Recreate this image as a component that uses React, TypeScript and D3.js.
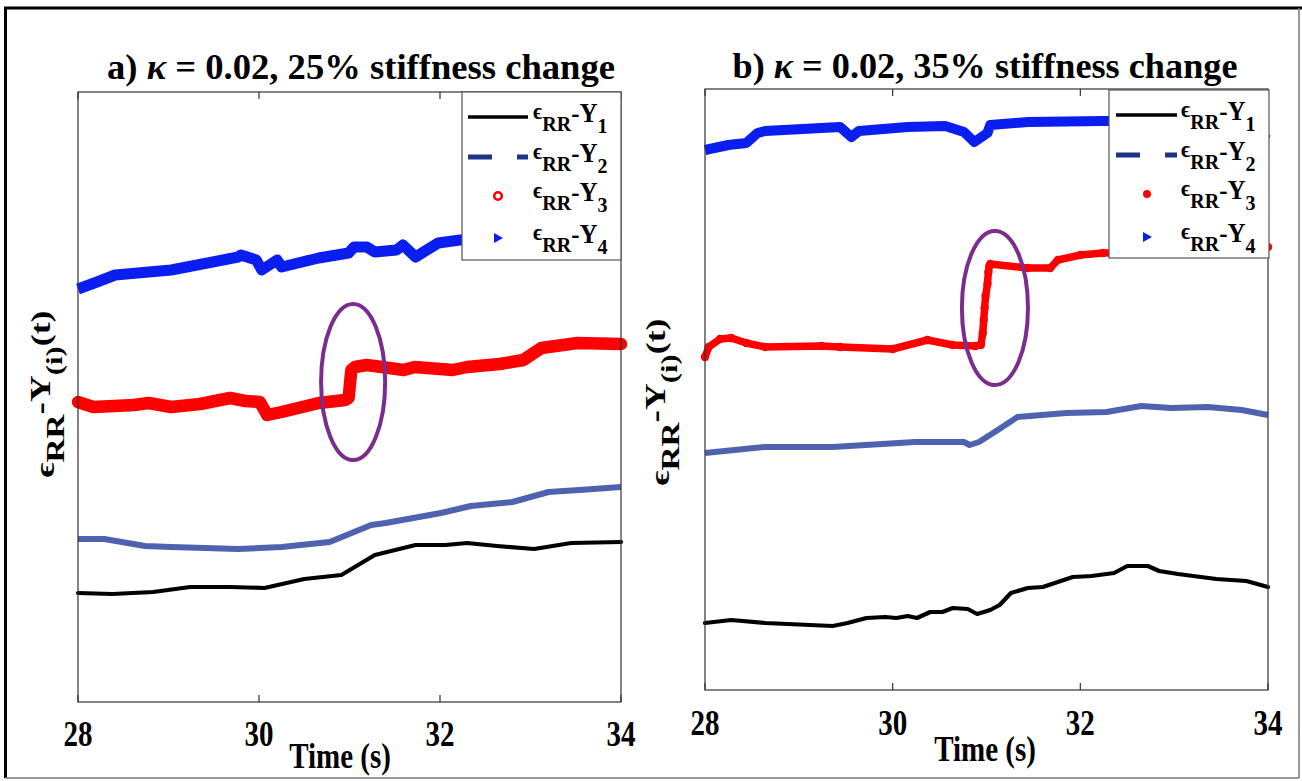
import React from "react";
import * as d3 from "d3";

// ---------- DATA (time in s, response in arbitrary units) ----------
const xTicks = [28, 30, 32, 34];

// Panel a
const a_Y1_t = [28.0, 28.38, 28.83, 29.24, 29.68, 30.06, 30.5, 30.91, 31.28, 31.73, 32.06, 32.3, 32.63, 33.04, 33.45, 34.0];
const a_Y1_v = [1.09, 1.08, 1.1, 1.15, 1.15, 1.14, 1.23, 1.27, 1.47, 1.57, 1.57, 1.59, 1.56, 1.53, 1.59, 1.6];
const a_Y2_t = [28.0, 28.29, 28.74, 29.03, 29.77, 30.25, 30.78, 31.24, 31.4, 32.01, 32.34, 32.8, 33.2, 33.54, 34.0];
const a_Y2_v = [1.63, 1.63, 1.56, 1.55, 1.53, 1.55, 1.6, 1.77, 1.79, 1.89, 1.96, 2.0, 2.1, 2.12, 2.15];
const a_Y3_t = [28.0, 28.17, 28.62, 28.78, 29.03, 29.35, 29.68, 29.85, 30.01, 30.09, 30.25, 30.66, 30.95, 30.99, 31.02, 31.06, 31.19, 31.6, 31.72, 32.14, 32.3, 32.66, 32.92, 33.12, 33.52, 34.0];
const a_Y3_v = [3.0, 2.95, 2.97, 2.99, 2.95, 2.98, 3.04, 3.01, 3.0, 2.87, 2.9, 2.99, 3.02, 3.04, 3.32, 3.35, 3.37, 3.32, 3.35, 3.32, 3.35, 3.38, 3.42, 3.54, 3.59, 3.58];
const a_Y4_t = [28.0, 28.21, 28.41, 29.03, 29.77, 29.8, 29.97, 30.03, 30.2, 30.25, 30.66, 30.99, 31.05, 31.19, 31.28, 31.52, 31.59, 31.73, 31.89, 31.98, 32.22, 32.66, 33.33, 34.0];
const a_Y4_v = [4.13, 4.2, 4.27, 4.32, 4.45, 4.47, 4.42, 4.32, 4.42, 4.35, 4.44, 4.49, 4.55, 4.55, 4.5, 4.52, 4.57, 4.45, 4.54, 4.59, 4.62, 4.65, 4.68, 4.7];

// Panel b
const b_Y1_t = [28.0, 28.28, 28.64, 29.36, 29.52, 29.72, 29.92, 30.04, 30.16, 30.26, 30.4, 30.53, 30.64, 30.8, 30.9, 31.04, 31.14, 31.26, 31.44, 31.6, 31.92, 32.12, 32.36, 32.5, 32.72, 32.84, 33.04, 33.45, 33.77, 34.0];
const b_Y1_v = [0.67, 0.7, 0.67, 0.64, 0.67, 0.72, 0.73, 0.72, 0.74, 0.72, 0.78, 0.78, 0.82, 0.81, 0.76, 0.8, 0.85, 0.97, 1.02, 1.03, 1.13, 1.14, 1.17, 1.24, 1.24, 1.19, 1.16, 1.11, 1.09, 1.03];
const b_Y2_t = [28.0, 28.64, 29.36, 30.24, 30.76, 30.82, 30.92, 31.12, 31.33, 31.85, 32.28, 32.65, 32.81, 32.97, 33.36, 33.72, 34.0];
const b_Y2_v = [2.37, 2.43, 2.43, 2.48, 2.48, 2.45, 2.48, 2.6, 2.73, 2.77, 2.78, 2.84, 2.83, 2.82, 2.83, 2.8, 2.75];
const b_Y3_t = [28.0, 28.04, 28.16, 28.28, 28.44, 28.64, 29.24, 29.44, 30.0, 30.37, 30.64, 30.88, 30.94, 30.96, 30.97, 30.98, 30.99, 31.01, 31.02, 31.03, 31.04, 31.44, 31.68, 31.76, 32.0, 32.24, 33.06, 34.0];
const b_Y3_v = [3.33, 3.43, 3.51, 3.52, 3.47, 3.43, 3.44, 3.43, 3.41, 3.5, 3.45, 3.44, 3.45, 3.57, 3.7, 3.82, 3.94, 4.06, 4.18, 4.24, 4.26, 4.22, 4.22, 4.3, 4.35, 4.37, 4.38, 4.43];
const b_Y4_t = [28.0, 28.25, 28.44, 28.56, 28.64, 29.44, 29.56, 29.64, 30.16, 30.56, 30.76, 30.87, 31.01, 31.04, 31.44, 32.24, 33.06, 33.7, 34.0];
const b_Y4_v = [5.4, 5.45, 5.47, 5.57, 5.59, 5.63, 5.53, 5.59, 5.63, 5.64, 5.58, 5.48, 5.57, 5.65, 5.68, 5.69, 5.69, 5.67, 5.5];

// highlighted regions (center t, center v, half-width s, half-height v)
const a_ellipse = [31.04, 3.2, 0.354, 0.78];
const b_ellipse = [31.09, 3.82, 0.352, 0.77];

const titlePrefix = ["a)  ", "b) "];
const titleSuffix = [" = 0.02, 25% stiffness change", " = 0.02, 35% stiffness change"];
const legendNums = ["1", "2", "3", "4"];

// ---------- STYLE ----------
const FONT = "Liberation Serif, Times New Roman, serif";
const C_Y1 = "#000000";
const C_Y2 = "#4f62b0";
const C_Y2_LEG = "#1c3388";
const C_Y3 = "#ff0000";
const C_Y4 = "#0a1ef0";
const C_ELL = "#7b2d8e";
const VS = 1.2; // vertical stretch of the lettering

type Panel = {
  left: number; right: number; top: number; bottom: number; yMax: number;
  tIdx: number; titleX: number; titleY: number; titleLen: number;
  tickY: number; timeX: number; timeY: number;
  ylabX: number; ylabY: number;
  leg: { x0: number; y0: number; x1: number; y1: number; rows: number[]; sx0: number; sx1: number; tx: number; mx: number };
  filledY3: boolean;
  s: { t: number[]; v: number[] }[];
  ell: number[];
};

const panels: Panel[] = [
  {
    left: 78, right: 621, top: 92, bottom: 702, yMax: 6.1,
    tIdx: 0, titleX: 361, titleY: 79, titleLen: 508,
    tickY: 746, timeX: 340, timeY: 768, ylabX: 50, ylabY: 394,
    leg: { x0: 462, y0: 92, x1: 621, y1: 260, rows: [117, 157, 196, 238], sx0: 468, sx1: 528, tx: 533, mx: 498 },
    filledY3: false,
    s: [
      { t: a_Y1_t, v: a_Y1_v }, { t: a_Y2_t, v: a_Y2_v }, { t: a_Y3_t, v: a_Y3_v }, { t: a_Y4_t, v: a_Y4_v },
    ],
    ell: a_ellipse,
  },
  {
    left: 705, right: 1268, top: 89, bottom: 690, yMax: 6.01,
    tIdx: 1, titleX: 985, titleY: 78, titleLen: 505,
    tickY: 735, timeX: 985, timeY: 761, ylabX: 665, ylabY: 402,
    leg: { x0: 1109, y0: 90, x1: 1269, y1: 258, rows: [115, 155, 194, 237], sx0: 1116, sx1: 1177, tx: 1181, mx: 1147 },
    filledY3: true,
    s: [
      { t: b_Y1_t, v: b_Y1_v }, { t: b_Y2_t, v: b_Y2_v }, { t: b_Y3_t, v: b_Y3_v }, { t: b_Y4_t, v: b_Y4_v },
    ],
    ell: b_ellipse,
  },
];

function LegendLabel({ x, y, n }: { x: number; y: number; n: string }) {
  return (
    <text transform={`translate(${x},${y + 5}) scale(1,1.05)`} fontFamily={FONT} fontWeight="bold" fill="#000">
      <tspan fontSize={22} dy={-3}>ϵ</tspan>
      <tspan fontSize={20} dy={12}>RR</tspan>
      <tspan fontSize={25} dy={-9}>-Y</tspan>
      <tspan fontSize={20} dy={10}>{n}</tspan>
    </text>
  );
}

function PanelView({ p }: { p: Panel }) {
  const x = d3.scaleLinear().domain([28, 34]).range([p.left, p.right]);
  const y = d3.scaleLinear().domain([0, p.yMax]).range([p.bottom, p.top]);
  const pts = (k: number) => p.s[k].t.map((t, i) => [t, p.s[k].v[i]] as [number, number]);
  const line = d3.line<[number, number]>().x((d) => x(d[0])).y((d) => y(d[1])).curve(d3.curveLinear);
  const clipId = "clip" + p.left;
  const [ecx, ecy, erx, ery] = p.ell;
  const L = p.leg;
  return (
    <g>
      <defs>
        <clipPath id={clipId}>
          <rect x={p.left - 6} y={p.top} width={p.right - p.left + 14} height={p.bottom - p.top} />
        </clipPath>
      </defs>
      <text transform={`translate(${p.titleX},${p.titleY}) scale(1,${VS})`} textAnchor="middle" fontFamily={FONT} fontWeight="bold" fontSize={30}
        textLength={p.titleLen} lengthAdjust="spacingAndGlyphs">
        <tspan>{titlePrefix[p.tIdx]}</tspan>
        <tspan fontStyle="italic">κ</tspan>
        <tspan>{titleSuffix[p.tIdx]}</tspan>
      </text>
      <g clipPath={`url(#${clipId})`}>
        <path d={line(pts(0)) || ""} fill="none" stroke={C_Y1} strokeWidth={4.2} strokeLinejoin="round" strokeLinecap="round" />
        <path d={line(pts(1)) || ""} fill="none" stroke={C_Y2} strokeWidth={6} strokeLinejoin="round" />
        <path d={line(pts(2)) || ""} fill="none" stroke={C_Y3} strokeWidth={p.filledY3 ? 7.5 : 12.5} strokeLinejoin="round" strokeLinecap="round" />
        {p.filledY3 && pts(2).map((d, i) => <circle key={i} cx={x(d[0])} cy={y(d[1])} r={4.2} fill={C_Y3} />)}
        <path d={line(pts(3)) || ""} fill="none" stroke={C_Y4} strokeWidth={p.filledY3 ? 10 : 11} strokeLinejoin="round" />
      </g>
      <ellipse cx={x(ecx)} cy={y(ecy)} rx={x(ecx + erx) - x(ecx)} ry={y(ecy - ery) - y(ecy)} fill="none" stroke={C_ELL} strokeWidth={4} />
      {/* axes box */}
      <rect x={p.left} y={p.top} width={p.right - p.left} height={p.bottom - p.top} fill="none" stroke="#333" strokeWidth={1.2} />
      {xTicks.map((t) => (
        <g key={t}>
          <line x1={x(t)} x2={x(t)} y1={p.bottom} y2={p.bottom - 7} stroke="#333" strokeWidth={1.2} />
          <line x1={x(t)} x2={x(t)} y1={p.top} y2={p.top + 7} stroke="#333" strokeWidth={1.2} />
          <text transform={`translate(${x(t)},${p.tickY}) scale(1,${VS})`} textAnchor="middle" fontFamily={FONT} fontWeight="bold" fontSize={29}>{t}</text>
        </g>
      ))}
      <text transform={`translate(${p.timeX},${p.timeY}) scale(1,${VS})`} textAnchor="middle" fontFamily={FONT} fontWeight="bold" fontSize={29}>Time (s)</text>
      <text transform={`translate(${p.ylabX},${p.ylabY}) rotate(-90) scale(1.28,1)`} textAnchor="middle" fontFamily={FONT} fontWeight="bold" fill="#000">
        <tspan fontSize={28} dy={4}>ϵ</tspan>
        <tspan fontSize={26} dy={10}>RR</tspan>
        <tspan fontSize={29} dy={-14}>-Y</tspan>
        <tspan fontSize={24} dy={12}>(i)</tspan>
        <tspan fontSize={28} dy={-12}>(t)</tspan>
      </text>
      {/* legend */}
      <rect x={L.x0} y={L.y0} width={L.x1 - L.x0} height={L.y1 - L.y0} fill="#fff" stroke="#555" strokeWidth={1.2} />
      <line x1={L.sx0} x2={L.sx1} y1={L.rows[0]} y2={L.rows[0]} stroke={C_Y1} strokeWidth={3.5} />
      <line x1={L.sx0} x2={L.sx1} y1={L.rows[1]} y2={L.rows[1]} stroke={C_Y2_LEG} strokeWidth={5} strokeDasharray="24,25" />
      {p.filledY3 ? (
        <circle cx={L.mx} cy={L.rows[2]} r={4} fill={C_Y3} />
      ) : (
        <circle cx={L.mx} cy={L.rows[2]} r={3.8} fill="none" stroke={C_Y3} strokeWidth={2.6} />
      )}
      <path d={`M${L.mx - 4},${L.rows[3] - 5} L${L.mx + 5},${L.rows[3]} L${L.mx - 4},${L.rows[3] + 5} Z`} fill={C_Y4} />
      {legendNums.map((n, i) => (
        <LegendLabel key={n} x={L.tx} y={L.rows[i]} n={n} />
      ))}
    </g>
  );
}

export default function App() {
  return (
    <svg width={1302} height={781} style={{ position: "absolute", left: 0, top: 0, background: "#fff" }}>
      <rect x={0} y={0} width={1302} height={781} fill="#fff" />
      {/* outer frame */}
      <line x1={5.5} x2={5.5} y1={7} y2={778} stroke="#000" strokeWidth={3} />
      <line x1={4} x2={1302} y1={8} y2={8} stroke="#000" strokeWidth={3} />
      <line x1={5} x2={1299} y1={778} y2={778} stroke="#777" strokeWidth={1.5} />
      <line x1={1299} x2={1299} y1={8} y2={778} stroke="#777" strokeWidth={1.5} />
      {panels.map((p, i) => (
        <PanelView key={i} p={p} />
      ))}
    </svg>
  );
}
